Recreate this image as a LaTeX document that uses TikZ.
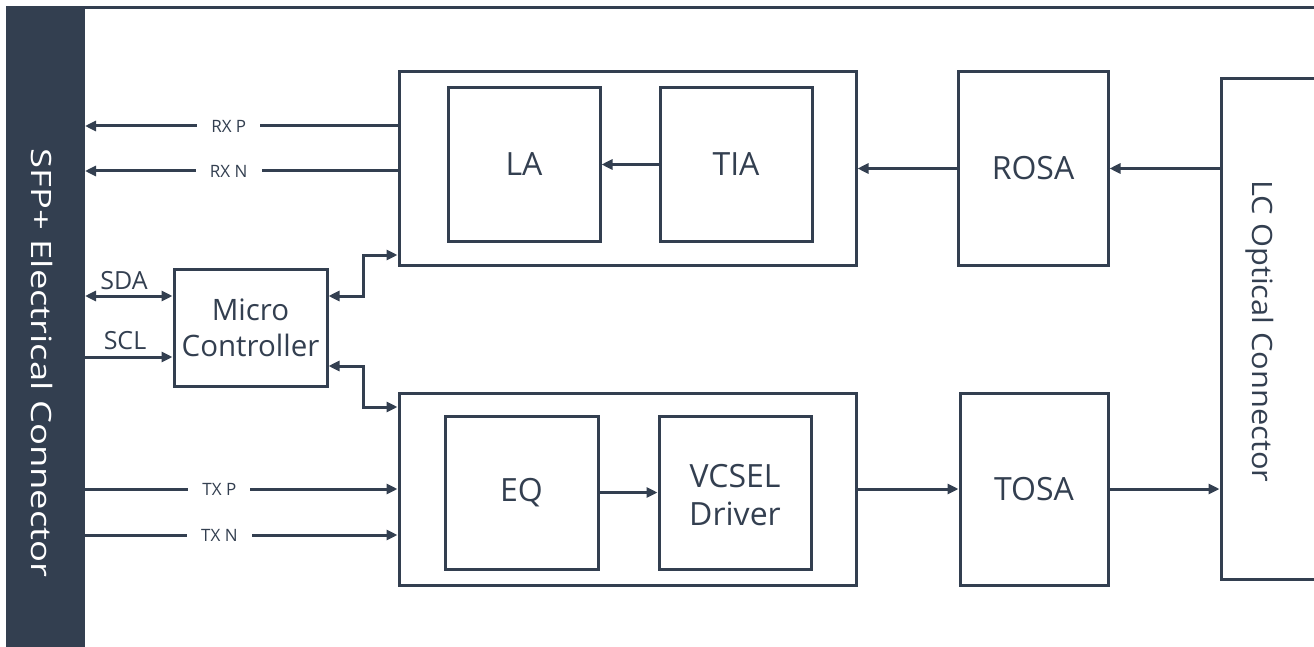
\documentclass[tikz,border=0pt]{standalone}
\usepackage{fontspec}
\setmainfont{Open Sans}
\usetikzlibrary{arrows.meta}
\definecolor{navy}{HTML}{333F50}
\tikzset{
  box/.style={draw=navy, line width=3pt, inner sep=0pt, text=navy, align=center},
  bigtxt/.style={font=\fontsize{32}{38}\selectfont},
  midtxt/.style={font=\fontsize{29.5}{36}\selectfont},
  sig/.style={fill=white, inner xsep=14pt, inner ysep=1pt, text=navy, font=\fontsize{17}{18}\selectfont},
  side/.style={text=navy, font=\fontsize{25}{26}\selectfont, inner sep=0pt},
  conn/.style={draw=navy, line width=3pt},
}
\begin{document}
\begin{tikzpicture}[x=1pt,y=-1pt, >={Triangle[length=11pt,width=10pt]}]
\clip (0,0) rectangle (1314,647);
\fill[white] (0,0) rectangle (1314,647);
% top rule and left bar
\draw[navy, line width=3pt] (6,8) -- (1314,8);
\node[fill=navy, inner sep=0pt, outer sep=0pt, minimum width=79pt, minimum height=641pt, anchor=north west] (bar) at (6,6) {};
\node[rotate=-90, text=white, inner sep=0pt, font=\fontsize{28}{30}\selectfont] (sfp) at (42,363) {\scalebox{1.3}[1]{SFP+ Electrical Connector}};
% receive chain
\node[box, minimum width=457pt, minimum height=193pt] (rx) at (627.5,168.5) {};
\node[box, bigtxt, minimum width=152pt, minimum height=153pt] (la) at (524,164.5) {LA};
\node[box, bigtxt, minimum width=152pt, minimum height=153pt] (tia) at (736,164.5) {TIA};
\node[box, bigtxt, minimum width=150pt, minimum height=193pt] (rosa) at (1033,168.5) {ROSA};
% LC connector (extends beyond right edge)
\node[box, minimum width=200pt, minimum height=500pt] (lc) at (1321,329) {};
\node[rotate=-90, text=navy, inner sep=0pt, font=\fontsize{28}{30}\selectfont] (lct) at (1260,331.5) {\scalebox{1.1}[1]{LC Optical Connector}};
% transmit chain
\node[box, minimum width=457pt, minimum height=192pt] (tx) at (627.5,489) {};
\node[box, bigtxt, minimum width=153pt, minimum height=153pt] (eq) at (521.5,492.5) {EQ};
\node[box, minimum width=152pt, minimum height=153pt,
      label={[bigtxt, align=center, text=navy, inner sep=0pt, yshift=-3pt]center:VCSEL\\Driver}] (vd) at (735,492.5) {};
\node[box, bigtxt, minimum width=148pt, minimum height=192pt] (tosa) at (1034,489) {TOSA};
% micro controller
\node[box, midtxt, minimum width=153pt, minimum height=117pt] (mc) at (250.5,327.5) {Micro\\Controller};
% connectors
\draw[conn,->] (rx.west |- 0,126) -- node[sig,pos=0.54]{RX P} (bar.east |- 0,126);
\draw[conn,->] (rx.west |- 0,171) -- node[sig,pos=0.54]{RX N} (bar.east |- 0,171);
\draw[conn,->] (tia.west) -- (la.east);
\draw[conn,->] (rosa.west) -- (rosa.west -| rx.east);
\draw[conn,->] (lc.west |- rosa.east) -- (rosa.east);
\draw[conn,<->] (bar.east |- 0,296) -- (mc.west |- 0,296);
\draw[conn,->] (bar.east |- 0,357) -- (mc.west |- 0,357);
\node[side] (sda) at (124,281) {SDA};
\node[side] (scl) at (125,341) {SCL};
\coordinate (j1) at (363,296);
\coordinate (j2) at (363,366);
\draw[conn,<->] (mc.east |- j1) -- (j1) |- (rx.west |- 0,255);
\draw[conn,<->] (mc.east |- j2) -- (j2) |- (tx.west |- 0,407);
\draw[conn,->] (bar.east |- 0,489) -- node[sig,pos=0.43]{TX P} (tx.west |- 0,489);
\draw[conn,->] (bar.east |- 0,535) -- node[sig,pos=0.43]{TX N} (tx.west |- 0,535);
\draw[conn,->] (eq.east) -- (vd.west);
\draw[conn,->] (tx.east |- tosa.west) -- (tosa.west);
\draw[conn,->] (tosa.east) -- (tosa.east -| lc.west);
\end{tikzpicture}
\end{document}
